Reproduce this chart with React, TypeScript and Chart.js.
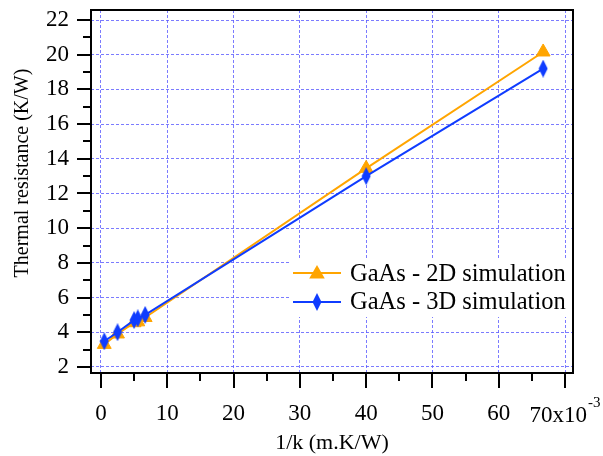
import React, { useEffect, useRef } from 'react';
import { Chart, registerables } from 'chart.js';

Chart.register(...registerables);

// ---------- data ----------
const X_VALUES = [0.5, 2.5, 5.0, 5.56, 6.67, 40, 66.7];
const SERIES_2D = [3.3, 3.9, 4.55, 4.6, 4.85, 13.45, 20.16];
const SERIES_3D = [3.48, 4.0, 4.7, 4.8, 5.0, 13.0, 19.2];
const SERIES_LABELS = ['GaAs - 2D simulation', 'GaAs - 3D simulation'];
const X_TITLE = '1/k (m.K/W)';
const Y_TITLE = 'Thermal resistance (K/W)';
const X_LAST_TICK_MULTIPLIER = 'x10';
const X_LAST_TICK_EXPONENT = '-3';
const X_MIN = -1.5;
const X_MAX = 71.2;
const Y_MIN = 1.65;
const Y_MAX = 22.58;
const X_MAJOR_STEP = 10;
const X_MINOR_STEP = 5;
const Y_MAJOR_STEP = 2;
const Y_MINOR_STEP = 1;

// ---------- styles ----------
const SERIF = "'Liberation Serif', 'Times New Roman', serif";
const ORANGE = '#ffa500';
const BLUE = '#0f3cff';
const GRID = 'rgba(90,90,255,0.8)';

function makeDiamond(color: string) {
  const c = document.createElement('canvas');
  c.width = 10;
  c.height = 18;
  const g = c.getContext('2d')!;
  g.fillStyle = color;
  g.beginPath();
  g.moveTo(5, 0);
  g.lineTo(9.5, 9);
  g.lineTo(5, 18);
  g.lineTo(0.5, 9);
  g.closePath();
  g.fill();
  return c;
}

function drawTriangle(ctx: CanvasRenderingContext2D, x: number, y: number, r: number, color: string) {
  ctx.fillStyle = color;
  ctx.beginPath();
  ctx.moveTo(x, y - r);
  ctx.lineTo(x + r * 0.866, y + r / 2);
  ctx.lineTo(x - r * 0.866, y + r / 2);
  ctx.closePath();
  ctx.fill();
}

export default function App() {
  const ref = useRef<HTMLCanvasElement | null>(null);

  useEffect(() => {
    if (!ref.current) return;
    const diamond = makeDiamond(BLUE);

    const decor = {
      id: 'decor',
      afterDraw(chart: any) {
        const { ctx, chartArea: a, scales } = chart;
        const xs = scales.x;
        const ys = scales.y;
        ctx.save();

        // legend
        const lx = 291;
        const ly = 258;
        ctx.fillStyle = '#fff';
        ctx.fillRect(lx, ly, a.right - lx, 59);
        const rows = [273, 302];
        const baselines = [280.5, 309];
        chart.data.datasets.forEach((ds: any, i: number) => {
          const ry = rows[i];
          ctx.strokeStyle = ds.borderColor;
          ctx.lineWidth = 2;
          ctx.beginPath();
          ctx.moveTo(293, ry);
          ctx.lineTo(341, ry);
          ctx.stroke();
          if (i === 0) drawTriangle(ctx, 317, ry + 1, 9, ds.borderColor);
          else ctx.drawImage(diamond, 317 - diamond.width / 2, ry - diamond.height / 2);
          ctx.fillStyle = '#000';
          ctx.font = `24.5px ${SERIF}`;
          ctx.textAlign = 'left';
          ctx.textBaseline = 'alphabetic';
          ctx.fillText(ds.label, 350, baselines[i]);
        });

        // frame
        ctx.strokeStyle = '#000';
        ctx.lineWidth = 2;
        ctx.strokeRect(a.left, a.top, a.right - a.left, a.bottom - a.top);

        // ticks
        ctx.beginPath();
        const xt = xs.ticks.map((t: any) => t.value);
        for (let v = xt[0]; v <= xt[xt.length - 1] + 1e-9; v += X_MINOR_STEP) {
          const px = Math.round(xs.getPixelForValue(v));
          const major = Math.abs(v / X_MAJOR_STEP - Math.round(v / X_MAJOR_STEP)) < 1e-6;
          ctx.moveTo(px, a.bottom);
          ctx.lineTo(px, a.bottom + (major ? 15 : 8));
        }
        const yt = ys.ticks.map((t: any) => t.value);
        for (let v = yt[0]; v <= yt[yt.length - 1] + 1e-9; v += Y_MINOR_STEP) {
          const py = Math.round(ys.getPixelForValue(v));
          const major = Math.abs(v / Y_MAJOR_STEP - Math.round(v / Y_MAJOR_STEP)) < 1e-6;
          ctx.moveTo(a.left, py);
          ctx.lineTo(a.left - (major ? 14 : 8), py);
        }
        ctx.stroke();

        // last x tick label with exponent
        const lastVal = xt[xt.length - 1];
        const px70 = xs.getPixelForValue(lastVal);
        const mainTxt = `${lastVal}${X_LAST_TICK_MULTIPLIER}`;
        ctx.fillStyle = '#000';
        ctx.textBaseline = 'alphabetic';
        ctx.textAlign = 'left';
        ctx.font = `23px ${SERIF}`;
        const w1 = ctx.measureText(mainTxt).width;
        ctx.font = `15px ${SERIF}`;
        const w2 = ctx.measureText(X_LAST_TICK_EXPONENT).width;
        const start = px70 - (w1 + 1 + w2) / 2;
        ctx.font = `23px ${SERIF}`;
        ctx.fillText(mainTxt, start, 422);
        ctx.font = `15px ${SERIF}`;
        ctx.fillText(X_LAST_TICK_EXPONENT, start + w1 + 1, 407);

        // titles
        ctx.font = `22px ${SERIF}`;
        ctx.textAlign = 'center';
        ctx.fillText(X_TITLE, (a.left + a.right) / 2, 449);
        ctx.save();
        ctx.translate(23, 173);
        ctx.rotate(-Math.PI / 2);
        ctx.font = `20px ${SERIF}`;
        ctx.textBaseline = 'middle';
        ctx.fillText(Y_TITLE, 0, 0);
        ctx.restore();

        ctx.restore();
      },
    };

    const chart = new Chart(ref.current, {
      type: 'scatter',
      data: {
        datasets: [
          {
            label: SERIES_LABELS[0],
            data: X_VALUES.map((x, i) => ({ x, y: SERIES_2D[i] })),
            showLine: true,
            borderColor: ORANGE,
            backgroundColor: ORANGE,
            borderWidth: 2,
            pointStyle: 'triangle',
            pointRadius: 8,
            pointBorderWidth: 1,
            pointBackgroundColor: ORANGE,
            pointBorderColor: ORANGE,
            order: 1,
          },
          {
            label: SERIES_LABELS[1],
            data: X_VALUES.map((x, i) => ({ x, y: SERIES_3D[i] })),
            showLine: true,
            borderColor: BLUE,
            backgroundColor: BLUE,
            borderWidth: 2,
            pointStyle: diamond as any,
            pointRadius: 8,
            order: 0,
          },
        ],
      },
      options: {
        animation: false,
        responsive: false,
        maintainAspectRatio: false,
        layout: { padding: { top: 10, right: 30, left: 0, bottom: 0 } },
        plugins: { legend: { display: false }, tooltip: { enabled: false } },
        scales: {
          x: {
            type: 'linear',
            min: X_MIN,
            max: X_MAX,
            afterFit: (s: any) => {
              s.height = 83;
              s.paddingLeft = 0;
              s.paddingRight = 0;
            },
            grid: { color: GRID, lineWidth: 1, drawTicks: false },
            border: { display: false, dash: [3, 2] },
            ticks: {
              stepSize: X_MAJOR_STEP,
              includeBounds: false,
              autoSkip: false,
              maxRotation: 0,
              padding: 27,
              color: '#000',
              font: { family: SERIF, size: 23 },
              callback: (v: any) => (Math.abs(v - 70) < 1e-9 ? '' : String(v)),
            },
          },
          y: {
            type: 'linear',
            min: Y_MIN,
            max: Y_MAX,
            afterFit: (s: any) => {
              s.width = 91;
              s.paddingTop = 0;
              s.paddingBottom = 0;
            },
            grid: { color: GRID, lineWidth: 1, drawTicks: false },
            border: { display: false, dash: [3, 2] },
            ticks: {
              stepSize: Y_MAJOR_STEP,
              includeBounds: false,
              autoSkip: false,
              padding: 22,
              color: '#000',
              font: { family: SERIF, size: 23 },
            },
          },
        },
      },
      plugins: [decor],
    } as any);

    return () => chart.destroy();
  }, []);

  return (
    <div style={{ position: 'absolute', left: 0, top: 0, width: 603, height: 456, background: '#fff' }}>
      <canvas ref={ref} width={603} height={456} style={{ display: 'block' }} />
    </div>
  );
}
